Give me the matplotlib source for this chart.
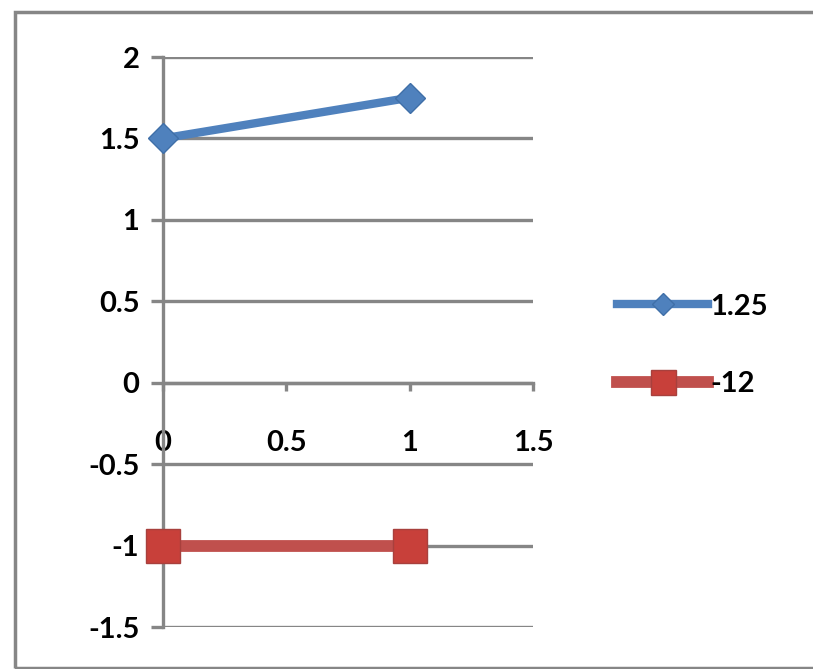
import matplotlib
matplotlib.use('Agg')
import matplotlib.pyplot as plt
from matplotlib.patches import Rectangle

plt.rcParams['font.family'] = ['Lato', 'DejaVu Sans']
plt.rcParams['font.weight'] = 'bold'

x_blue = [0, 1]
y_blue = [1.5, 1.75]
x_red = [0, 1]
y_red = [-1, -1]
labels = ["1.25", "-12"]
yticks = [-1.5, -1, -0.5, 0, 0.5, 1, 1.5, 2]
ytick_labels = ["-1.5", "-1", "-0.5", "0", "0.5", "1", "1.5", "2"]
xticks = [0, 0.5, 1, 1.5]
xtick_labels = ["0", "0.5", "1", "1.5"]

grey = '#868686'
fig = plt.figure(figsize=(8.13, 6.69), dpi=100)
ax = fig.add_axes([163/813, 1-627/669, 370/813, 570/669])

ax.plot(x_blue, y_blue, color='#4F81BD', lw=6, marker='D', ms=15,
        mec='#3F6FA8', mfc='#4F81BD', label=labels[0], zorder=3, clip_on=False)
ax.plot(x_red, y_red, color='#C0504D', lw=8.5, marker='s', ms=24,
        mec='#A8403D', mfc='#C8403A', label=labels[1], zorder=3, clip_on=False)

ax.set_xlim(0, 1.5)
ax.set_ylim(-1.5, 2)
ax.set_yticks(yticks)
ax.set_yticklabels(ytick_labels)
ax.set_xticks(xticks)
ax.set_xticklabels(xtick_labels)

ax.grid(axis='y', color=grey, lw=2.4)
ax.set_axisbelow(True)
for s in ['top', 'right']:
    ax.spines[s].set_visible(False)
ax.spines['left'].set_color(grey)
ax.spines['left'].set_linewidth(2.4)
ax.spines['bottom'].set_position(('data', 0))
ax.spines['bottom'].set_color(grey)
ax.spines['bottom'].set_linewidth(2.4)

ax.tick_params(axis='y', length=9, width=2.4, color=grey, pad=8,
               labelsize=21, labelcolor='black')
ax.tick_params(axis='x', length=6, width=2.4, color=grey, pad=28,
               labelsize=21, labelcolor='black')

fig.legend(loc='center left', bbox_to_anchor=(0.727, 0.484), frameon=False,
           fontsize=21, handlelength=3.1, handletextpad=0.1,
           labelspacing=1.75, markerscale=0.75)

fig.patches.append(Rectangle((15/813, 1-668/669), 1.0, (668-12)/669,
                             transform=fig.transFigure, fill=False,
                             edgecolor=grey, lw=2.5))

fig.savefig('out.png', dpi=100)
